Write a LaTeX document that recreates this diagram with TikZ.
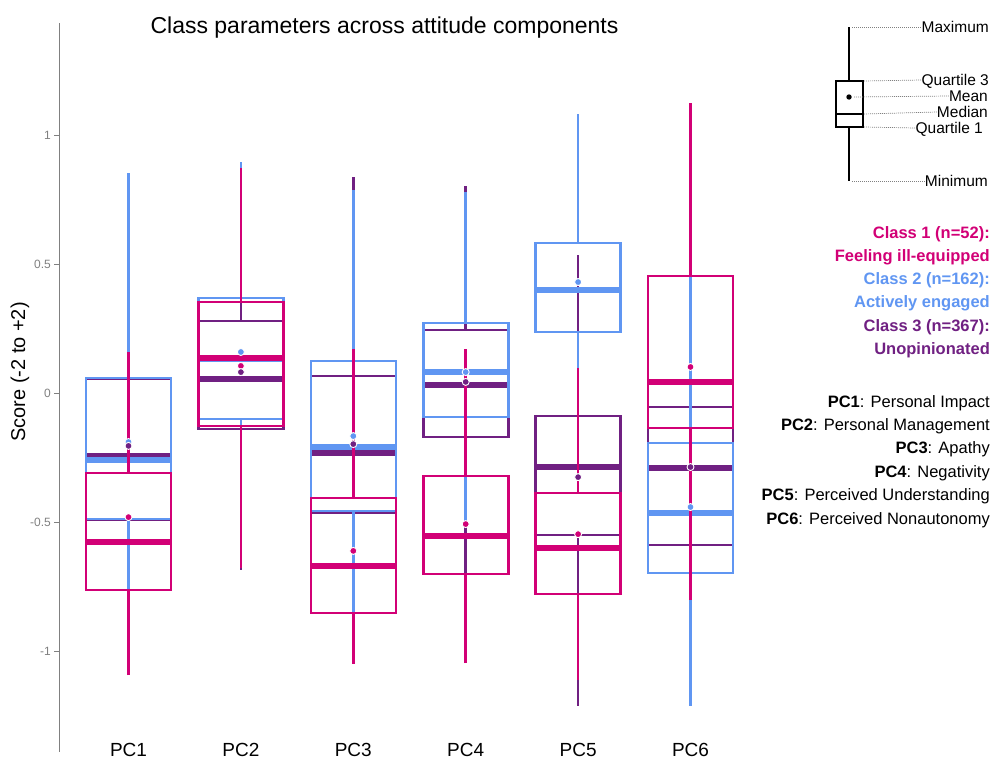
\documentclass[tikz,border=0pt]{standalone}
\usepackage{fontspec}
\setmainfont{Liberation Sans}
\definecolor{clsone}{RGB}{210,0,118}
\definecolor{clstwo}{RGB}{96,150,242}
\definecolor{clsthree}{RGB}{112,32,130}

\begin{document}
\begin{tikzpicture}[x=1pt,y=1pt]
	\tikzset{whisk/.style={line width=2.6pt},
		boxline/.style={line width=2.6pt},
		medline/.style={line width=5.5pt},
		meandot/.style={draw=white,line width=0.9pt},
		legtxt/.style={anchor=east,inner sep=0pt,text height=12pt,text depth=0pt,font=\fontsize{16.5}{18}\selectfont},
		keytxt/.style={legtxt,text height=11pt,font=\fontsize{15.5}{17}\selectfont},
		dotline/.style={gray,line width=0.7pt,dash pattern=on 1pt off 1pt}}
	\useasboundingbox (0,0) rectangle (992,-761);
	\node[anchor=base,font=\fontsize{23}{26}\selectfont] (title) at (384.5,-33) {Class parameters across attitude components};
	\node[rotate=90,font=\fontsize{20}{22}\selectfont] (ylab) at (20,-372) {Score (-2 to +2)};
	\draw[gray,line width=1.8pt] (59.5,-23) -- (59.5,-752);
	\begin{scope}[yshift=-393pt,y=258pt]
		\foreach \v/\t [count=\k] in {1/1,0.5/0.5,0/0,-0.5/-0.5,-1/-1}{
			\draw[gray,line width=1pt] (54,\v) -- (59.5,\v);
			\node[anchor=east,inner sep=0pt,text=gray,font=\fontsize{12}{14}\selectfont] (tick\k) at (51,\v) {\t};
		}
		% boxes: class 3, then class 2, then class 1 on top
		\foreach \c/\i/\lo/\qa/\md/\qb/\hi in {
			clsthree/1/-1.06/-0.49/-0.245/0.055/0.85,
			clsthree/2/-0.685/-0.14/0.054/0.279/0.87,
			clsthree/3/-1.0/-0.465/-0.233/0.066/0.837,
			clsthree/4/-0.75/-0.171/0.031/0.244/0.802,
			clsthree/5/-1.213/-0.55/-0.287/-0.089/0.535,
			clsthree/6/-1.0/-0.589/-0.291/-0.054/0.70,
			clstwo/1/-1.06/-0.488/-0.26/0.058/0.853,
			clstwo/2/-0.5/-0.10/0.13/0.368/0.895,
			clstwo/3/-0.9/-0.457/-0.209/0.124/0.787,
			clstwo/4/-0.52/-0.093/0.081/0.271/0.779,
			clstwo/5/-0.3/0.236/0.399/0.581/1.081,
			clstwo/6/-1.213/-0.698/-0.465/-0.194/0.74,
			clsone/1/-1.093/-0.764/-0.578/-0.31/0.159,
			clsone/2/-0.678/-0.128/0.136/0.353/0.872,
			clsone/3/-1.05/-0.853/-0.671/-0.407/0.171,
			clsone/4/-1.047/-0.702/-0.554/-0.322/0.171,
			clsone/5/-1.112/-0.779/-0.601/-0.388/0.097,
			clsone/6/-0.802/-0.136/0.043/0.453/1.124}{
			\pgfmathsetmacro\cx{16.1+112.4*\i}
			\draw[color=\c,whisk] (\cx,\lo) -- (\cx,\qa) (\cx,\qb) -- (\cx,\hi);
			\draw[color=\c,boxline] (\cx-42.5,\qa) rectangle (\cx+42.5,\qb);
			\draw[color=\c,medline] (\cx-42.5,\md) -- (\cx+42.5,\md);
		}
		% means
		\foreach \c/\i/\mn in {
			clsone/1/-0.481,clsone/2/0.105,clsone/3/-0.612,clsone/4/-0.508,clsone/5/-0.547,clsone/6/0.101,
			clstwo/1/-0.19,clstwo/2/0.159,clstwo/3/-0.167,clstwo/4/0.081,clstwo/5/0.430,clstwo/6/-0.442,
			clsthree/1/-0.205,clsthree/2/0.081,clsthree/3/-0.198,clsthree/4/0.043,clsthree/5/-0.326,clsthree/6/-0.287}{
			\pgfmathsetmacro\cx{16.1+112.4*\i}
			\filldraw[fill=\c,meandot] (\cx,\mn) circle (3.5pt);
		}
	\end{scope}
	\foreach \i in {1,...,6}
		\node[anchor=base,font=\fontsize{19}{21}\selectfont] (xl\i) at ({16.1+112.4*\i},-756) {PC\i};
	% key
	\coordinate (lgmax) at (849,-27);
	\coordinate (lgmin) at (849,-181);
	\coordinate (lgq3) at (863,-81);
	\coordinate (lgq1) at (863,-127);
	\coordinate (lgmed) at (863,-114);
	\coordinate (lgmean) at (849,-97);
	\draw[line width=1.3pt] (lgmax) -- (849,-81) (849,-127) -- (lgmin);
	\draw[line width=1.3pt] (836,-81) rectangle (lgq1);
	\draw[line width=2pt] (836,-114) -- (lgmed);
	\fill (lgmean) circle (2.7pt);
	\node[keytxt] (lmax) at (989,-27) {Maximum};
	\node[keytxt] (lq3) at (989,-80) {Quartile 3};
	\node[keytxt] (lmean) at (988,-96) {Mean};
	\node[keytxt] (lmed) at (988,-112) {Median};
	\node[keytxt] (lq1) at (983,-128) {Quartile 1};
	\node[keytxt] (lmin) at (988,-181) {Minimum};
	\draw[dotline] ([xshift=3pt]lgmax) -- (lmax.west);
	\draw[dotline] ([xshift=1pt]lgq3) -- (lq3.west);
	\draw[dotline] ([xshift=5pt]lgmean) -- (lmean.west);
	\draw[dotline] ([xshift=1pt]lgmed) -- (lmed.west);
	\draw[dotline] ([xshift=1pt]lgq1) -- (lq1.west);
	\draw[dotline] ([xshift=3pt]lgmin) -- (lmin.west);
	% classes
	\node[legtxt,text=clsone] (cone) at (990,-232) {\bfseries Class 1 (n=52):};
	\node[legtxt,text=clsone] (conename) at (990,-255) {\bfseries Feeling ill-equipped};
	\node[legtxt,text=clstwo] (ctwo) at (990,-278) {\bfseries Class 2 (n=162):};
	\node[legtxt,text=clstwo] (ctwoname) at (990,-301) {\bfseries Actively engaged};
	\node[legtxt,text=clsthree] (cthree) at (990,-325) {\bfseries Class 3 (n=367):};
	\node[legtxt,text=clsthree] (cthreename) at (990,-348) {\bfseries Unopinionated};
	\foreach \txt [count=\k] in {Personal Impact,Personal Management,Apathy,Negativity,Perceived Understanding,Perceived Nonautonomy}
		\node[legtxt] (pc\k) at (990,{-401-23.4*(\k-1)}) {\textbf{PC\k}: \txt};
\end{tikzpicture}
\end{document}
